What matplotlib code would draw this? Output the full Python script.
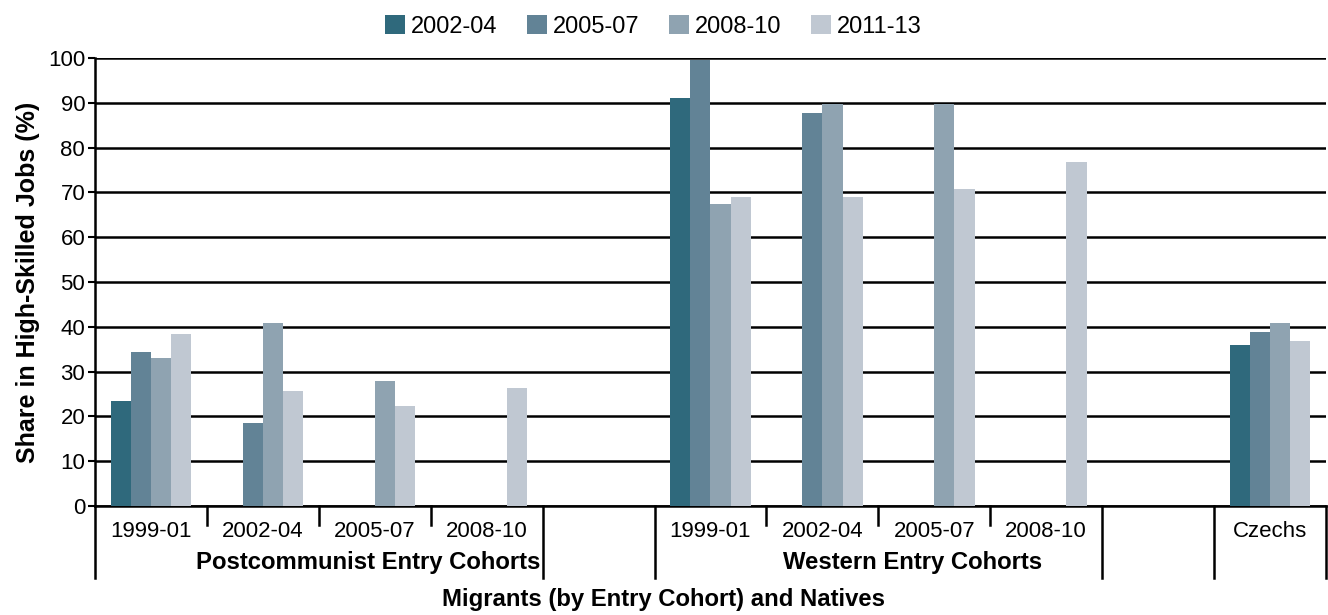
import numpy as np
import matplotlib
matplotlib.use("Agg")
import matplotlib.pyplot as plt
import matplotlib.transforms as mtransforms

plt.rcParams['font.family'] = ['Liberation Sans', 'DejaVu Sans']

# Слоты по оси X: 4 посткоммунистические когорты, пусто, 4 западные, пусто, чехи
slot_labels = ['1999-01', '2002-04', '2005-07', '2008-10', '',
               '1999-01', '2002-04', '2005-07', '2008-10', '', 'Czechs']
series_names = ['2002-04', '2005-07', '2008-10', '2011-13']
colors = ['#2f697c', '#628396', '#8fa3b1', '#c0c8d2']

nan = np.nan
s_2002_04 = [23.5, nan, nan, nan, nan, 91.0, nan, nan, nan, nan, 36.0]
s_2005_07 = [34.4, 18.6, nan, nan, nan, 99.6, 87.7, nan, nan, nan, 38.8]
s_2008_10 = [33.0, 40.9, 27.9, nan, nan, 67.4, 89.8, 89.8, nan, nan, 40.8]
s_2011_13 = [38.4, 25.7, 22.3, 26.3, nan, 69.0, 69.0, 70.8, 76.7, nan, 36.8]
series = [s_2002_04, s_2005_07, s_2008_10, s_2011_13]

group_names = ['Postcommunist Entry Cohorts', 'Western Entry Cohorts']
group_pos = [1.94, 6.81]
xlabel = 'Migrants (by Entry Cohort) and Natives'
ylabel = 'Share in High-Skilled Jobs (%)'

fs = 16
fs_bold = 17.2
fig = plt.figure(figsize=(13.28, 6.15), dpi=100)
ax = fig.add_axes([0.0715, 0.1772, 0.927, 0.7285])

x = np.arange(len(slot_labels))
w = 0.18
for i, (name, vals, c) in enumerate(zip(series_names, series, colors)):
    ax.bar(x + (i - 1.5) * w, vals, width=w, color=c, label=name, zorder=3)

ax.set_xlim(-0.5, len(slot_labels) - 0.5)
ax.set_ylim(0, 100)
ax.set_yticks(np.arange(0, 101, 10))
ax.yaxis.grid(True, color='black', linewidth=1.8, zorder=1)
ax.set_axisbelow(True)
for side in ['top', 'right']:
    ax.spines[side].set_visible(False)
ax.spines['left'].set_linewidth(1.8)
ax.spines['bottom'].set_linewidth(1.8)
ax.tick_params(axis='y', labelsize=fs, length=5, width=1.5, pad=2)
ax.set_xticks([])
ax.set_ylabel(ylabel, fontsize=18, fontweight='bold', labelpad=6)

# многоуровневая подпись оси X
trans = mtransforms.blended_transform_factory(ax.transData, ax.transAxes)
short_len = 0.043
long_len = 0.161
long_bounds = [-0.5, 3.5, 4.5, 8.5, 9.5, 10.5]
for b in np.arange(-0.5, len(slot_labels)):
    ln = long_len if b in long_bounds else short_len
    ax.plot([b, b], [0, -ln], transform=trans, color='black',
            linewidth=1.8, clip_on=False)
for xi, lab in zip(x, slot_labels):
    ax.text(xi, -0.057, lab, transform=trans, ha='center', va='center',
            fontsize=fs)
for gx, gname in zip(group_pos, group_names):
    ax.text(gx, -0.127, gname, transform=trans, ha='center', va='center',
            fontsize=fs_bold, fontweight='bold')
fig.text(0.5, 0.025, xlabel, ha='center', va='center', fontsize=fs_bold,
         fontweight='bold')

fig.legend(loc='upper center', bbox_to_anchor=(0.492, 1.01), ncol=4,
           frameon=False, fontsize=17, handlelength=0.85, handleheight=0.85,
           handletextpad=0.27, columnspacing=1.23)

fig.savefig('out.png', dpi=100)
